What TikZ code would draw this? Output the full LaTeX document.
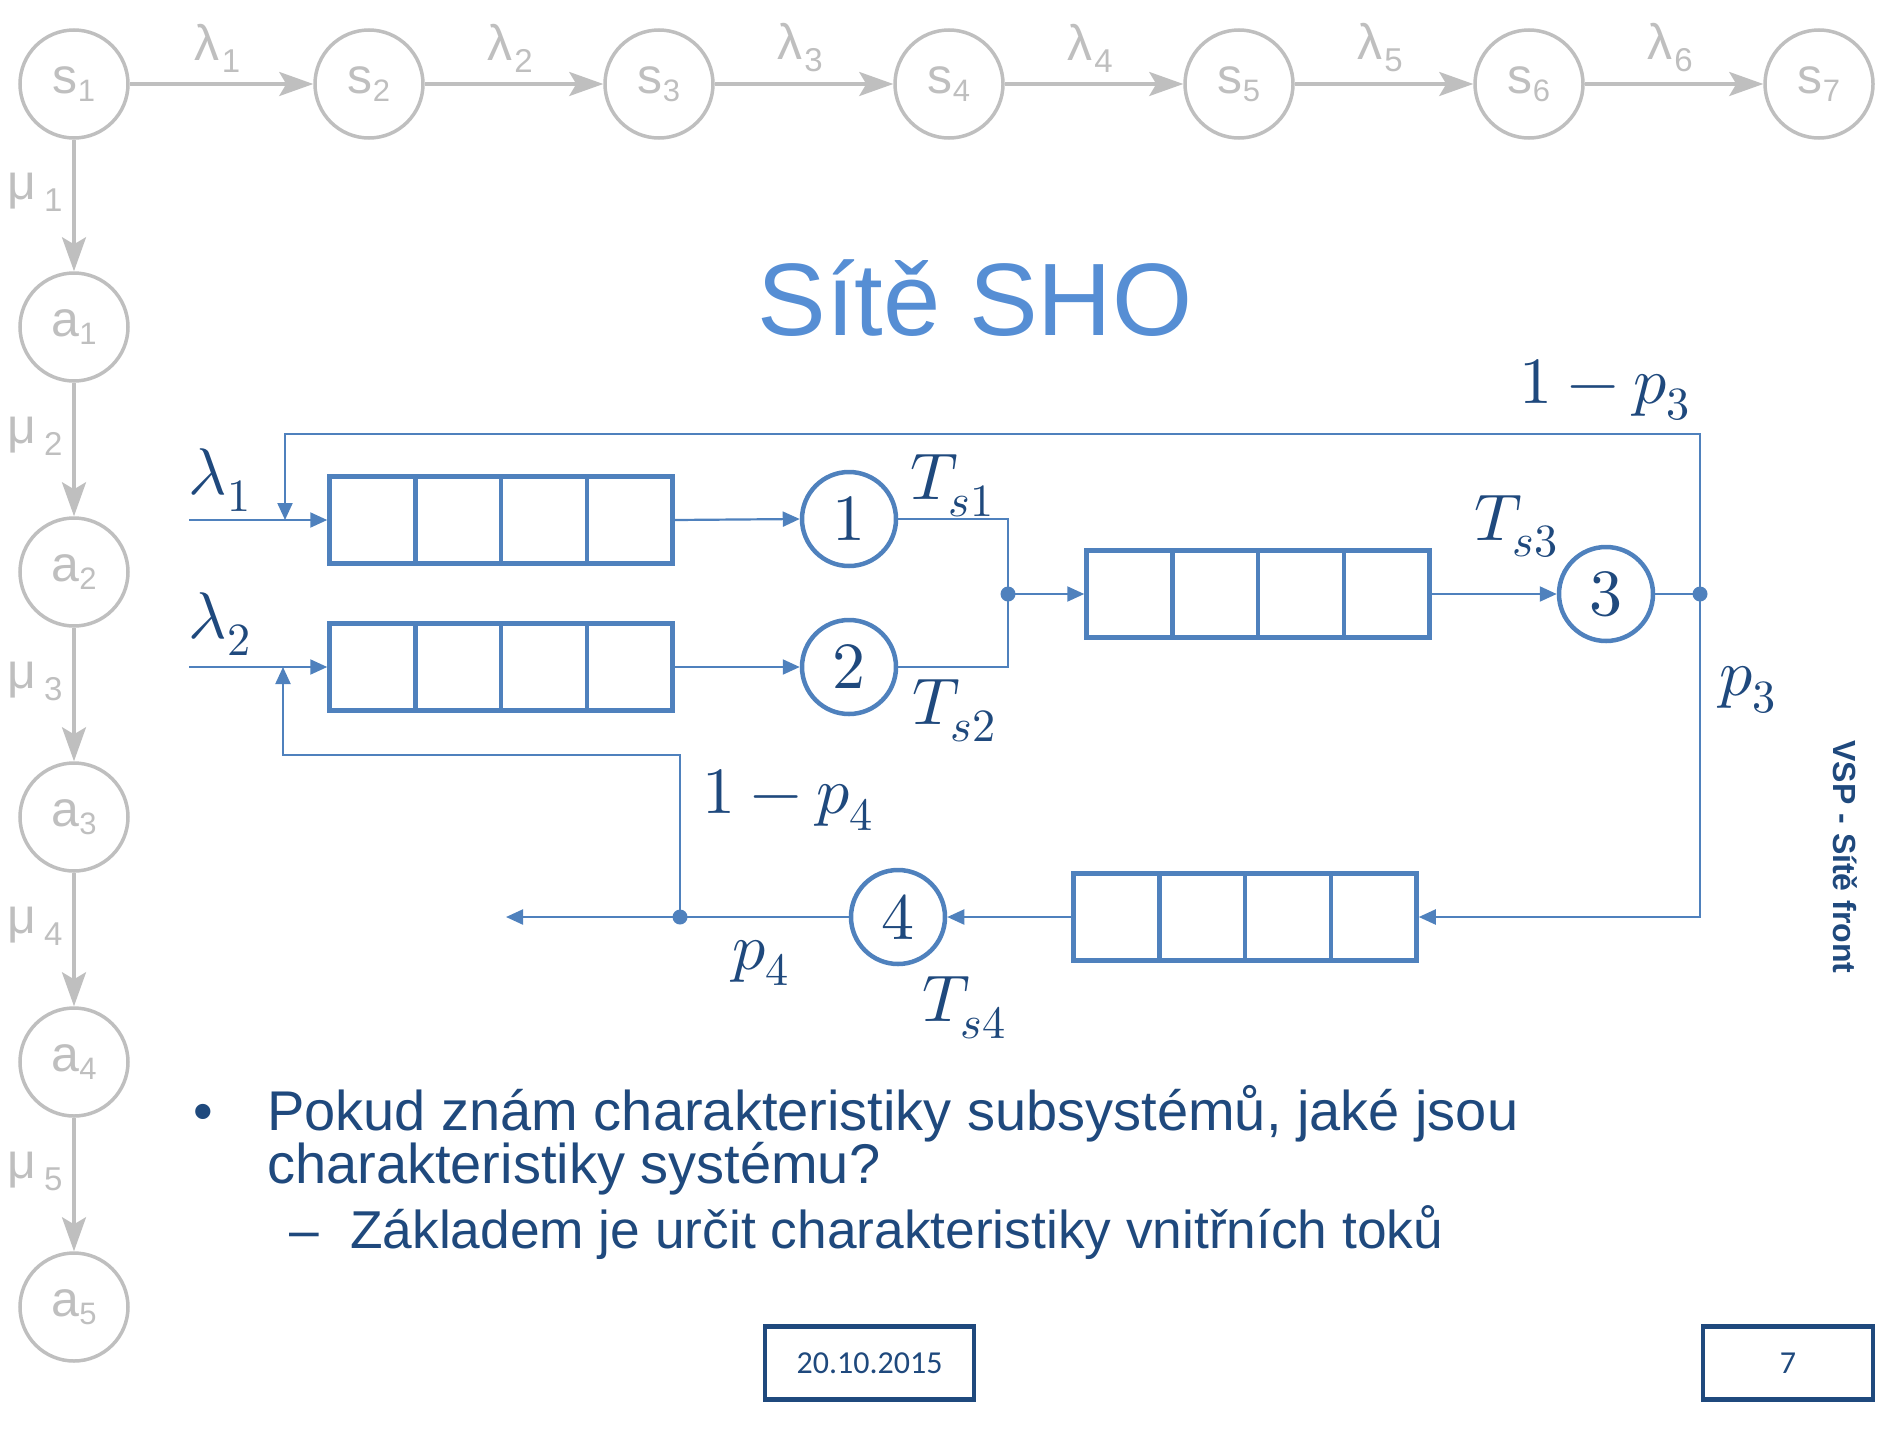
\documentclass[tikz,border=0pt]{standalone}
\usepackage{fontspec}
\usepackage{unicode-math}
\setmainfont{Liberation Sans}
\newfontfamily\footfont{Carlito}
\usetikzlibrary{arrows.meta,calc}
\definecolor{gcol}{RGB}{191,191,191}
\definecolor{bl}{RGB}{79,129,189}
\definecolor{dk}{RGB}{31,73,125}
\definecolor{ttl}{RGB}{86,142,212}
% grey state label: letter with lowered index
\newcommand\stlab[2]{{\fontsize{50}{50}\selectfont #1}{\fontsize{31}{31}\selectfont\raisebox{-8pt}{#2}}}
% grey rate label: greek letter, gap, lowered index
\newcommand\ratelab[3]{{\fontsize{50}{50}\selectfont #1}\kern#3{\fontsize{33}{33}\selectfont\raisebox{-12pt}{#2}}}
\begin{document}
\begin{tikzpicture}[x=1pt,y=-1pt,
  gstate/.style={circle,draw=gcol,line width=3.5pt,minimum size=108pt,inner sep=0pt,text=gcol},
  garrow/.style={draw=gcol,line width=3.5pt,-{Stealth[length=34pt,width=24pt,inset=7pt]}},
  glabel/.style={text=gcol,inner sep=0pt},
  flow/.style={draw=bl,line width=2.2pt},
  flowarr/.style={flow,-{Triangle[length=17pt,width=15pt]}},
  queue/.style={draw=bl,line width=4.5pt,minimum width=343pt,minimum height=87pt,inner sep=0pt,
    path picture={
      \foreach \k in {1,2,3}
        \draw[bl,line width=4.5pt]
          ($(path picture bounding box.south west)!\k/4!(path picture bounding box.south east)$) --
          ($(path picture bounding box.north west)!\k/4!(path picture bounding box.north east)$);
    }},
  server/.style={circle,draw=bl,line width=4.5pt,minimum size=94pt,inner sep=0pt,text=dk,
    font=\fontsize{66}{66}\selectfont},
  junction/.style={circle,fill=bl,inner sep=0pt,minimum size=15pt},
  mlabel/.style={text=dk,inner sep=0pt,font=\fontsize{66}{66}\selectfont},
  body/.style={text=dk,inner sep=0pt,anchor=base west,font=\fontsize{56}{56}\selectfont},
  subbody/.style={body,font=\fontsize{53.3}{53.3}\selectfont},
  footbox/.style={draw=dk,line width=4.5pt,minimum height=73pt,inner sep=0pt,text=dk,
    font=\footfont\fontsize{32}{32}\selectfont}
]
\useasboundingbox (0,0) rectangle (1878,1440);

% ---- grey state chain (top row and left column)
\node[gstate] (s1) at (74,84) {\stlab{s}{1}};
\foreach \i in {2,...,7}
  \node[gstate] (s\i) at ({369+290*(\i-2)},84) {\stlab{s}{\i}};
\foreach \i in {1,...,5}
  \node[gstate] (a\i) at (74,{327+245*(\i-1)}) {\stlab{a}{\i}};
\foreach \i [evaluate=\i as \j using int(\i+1)] in {1,...,6} {
  \draw[garrow] (s\i) -- (s\j);
  \path (s\i) -- (s\j) coordinate[pos=0.5] (mid\i);
  \node[glabel] (l\i) at ([xshift=-4pt]mid\i |- 0,48) {\ratelab{λ}{\i}{2pt}};
}
\draw[garrow] (s1) -- (a1);
\node[glabel] (m1) at (35,{(84+327)/2-13}) {\ratelab{μ}{1}{8pt}};
\foreach \i [evaluate=\i as \j using int(\i+1)] in {1,...,4} {
  \draw[garrow] (a\i) -- (a\j);
  \node[glabel] (m\j) at (35,{327+245*(\i-0.5)-13}) {\ratelab{μ}{\j}{8pt}};
}

% ---- title
\node[text=ttl,inner sep=0pt,anchor=base,font=\fontsize{103}{103}\selectfont] (title) at (975,335) {Sítě SHO};

% ---- queueing network
\node[queue] (q1) at (501,520) {};
\node[queue] (q2) at (501,667) {};
\node[queue] (q3) at (1258,594) {};
\node[queue] (q4) at (1245,917) {};
\node[server] (c1) at (849,519) {$1$};
\node[server] (c2) at (849,667) {$2$};
\node[server] (c3) at (1606,594) {$3$};
\node[server] (c4) at (898,917) {$4$};
\node[junction] (j1) at (1008,594) {};
\node[junction] (j3) at (1700,594) {};
\node[junction] (j4) at (680,917) {};
\coordinate (in1) at (189,520);
\coordinate (in2) at (189,667);
\coordinate (fb1) at (285,434);
\coordinate (e1) at (285,520);
\coordinate (fb2) at (283,755);
\coordinate (e2) at (283,667);
\coordinate (out) at (506,917);

\draw[flowarr] (in1) -- (q1.west);
\draw[flowarr] (in2) -- (q2.west);
\draw[flowarr] (q1.east) -- (c1.west);
\draw[flowarr] (q2.east) -- (c2.west);
\draw[flow] (c1.east) -- (c1.east -| j1.center) -- (c2.east -| j1.center) -- (c2.east);
\draw[flowarr] (j1.center) -- (q3.west);
\draw[flowarr] (q3.east) -- (c3.west);
\draw[flow] (c3.east) -- (j3.center);
\draw[flowarr] (j3.center) |- (fb1) -- (e1);
\draw[flowarr] (j3.center) |- (q4.east);
\draw[flowarr] (q4.west) -- (c4.east);
\draw[flowarr] (c4.west) -- (out);
\draw[flowarr] (j4.center) |- (fb2) -- (e2);

% ---- labels of the network
\node[mlabel] (tl1) at (220,480) {$\lambda_1$};
\node[mlabel] (tl2) at (220,624) {$\lambda_2$};
\node[mlabel] (ts1) at (952,486) {$T_{s1}$};
\node[mlabel] (ts2) at (954,711) {$T_{s2}$};
\node[mlabel] (ts3) at (1516,527) {$T_{s3}$};
\node[mlabel] (ts4) at (964,1008) {$T_{s4}$};
\node[mlabel] (tp3a) at (1605,390) {$1-p_3$};
\node[mlabel] (tp3) at (1748,690) {$p_3$};
\node[mlabel] (tp4a) at (788,800) {$1-p_4$};
\node[mlabel] (tp4) at (761,963) {$p_4$};

% ---- text body
\node[body] (bul) at (193,1130) {•};
\node[body] (t1) at (267,1130) {Pokud znám charakteristiky subsystémů, jaké jsou};
\node[body] (t2) at (267,1183) {charakteristiky systému?};
\node[subbody] (dash) at (289,1248) {–};
\node[subbody] (t3) at (350,1248) {Základem je určit charakteristiky vnitřních toků};

% ---- side caption and footer
\node[text=dk,inner sep=0pt,rotate=-90,font=\bfseries\fontsize{32}{32}\selectfont] (side) at (1845,857) {VSP - Sítě front};
\node[footbox,minimum width=209pt] (date) at (869.5,1363) {20.10.2015};
\node[footbox,minimum width=170pt] (page) at (1788,1363) {7};
\end{tikzpicture}
\end{document}
